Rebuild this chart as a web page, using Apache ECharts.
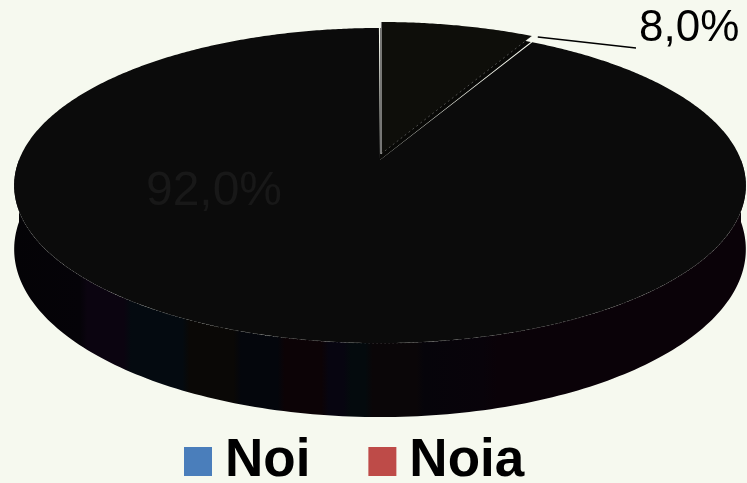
<!DOCTYPE html>
<html>
<head>
<meta charset="utf-8">
<script src="https://cdn.jsdelivr.net/npm/echarts@6/dist/echarts.min.js"></script>
<style>
html,body{margin:0;padding:0;background:#f6f9ef;}
#c{width:747px;height:483px;}
</style>
</head>
<body>
<div id="c"></div>
<script>
// Data
const categories = ['Noi', 'Noia'];
const values = [8.0, 92.0];
const labels = ['8,0%', '92,0%'];
const legendColors = ['#4a7ebb', '#be4b48'];

// 3D pie geometry (perspective projection of a disc)
const CX = 380, CY = 160, A = 361, B = 153.4, P = 0.162, D0 = 62;
const total = values.reduce((s, v) => s + v, 0);

function proj(deg, t) {
  const r = deg * Math.PI / 180;
  const u = t * Math.sin(r), v = -t * Math.cos(r);
  const w = 1 - P * v;
  return [CX + A * u / w, CY + B * v / w, w];
}

const sideGradient = {
  type: 'linear', x: 14, y: 0, x2: 746, y2: 0, global: true,
  colorStops: [
    {offset: 0.00, color: '#040306'}, {offset: 0.09, color: '#050308'},
    {offset: 0.10, color: '#0b0410'}, {offset: 0.15, color: '#0b0410'},
    {offset: 0.16, color: '#040a10'}, {offset: 0.23, color: '#040a10'},
    {offset: 0.24, color: '#0a0806'}, {offset: 0.30, color: '#0a0806'},
    {offset: 0.31, color: '#04060c'}, {offset: 0.36, color: '#04060c'},
    {offset: 0.37, color: '#0c0306'}, {offset: 0.42, color: '#0c0306'},
    {offset: 0.43, color: '#070510'}, {offset: 0.45, color: '#070510'},
    {offset: 0.46, color: '#040a0d'}, {offset: 0.48, color: '#040a0d'},
    {offset: 0.49, color: '#0a0608'}, {offset: 0.55, color: '#0a0608'},
    {offset: 0.56, color: '#06040a'}, {offset: 0.64, color: '#08030a'},
    {offset: 0.66, color: '#0a0208'}, {offset: 1.00, color: '#0a0208'}
  ]
};

function facePoints(a1, a2, off) {
  const c = proj(0, 0);
  const pts = [[c[0] + off[0], c[1] + off[1]]];
  for (let d = a1; d <= a2 + 1e-6; d += 0.5) {
    const p = proj(Math.min(d, a2), 1);
    pts.push([p[0] + off[0], p[1] + off[1]]);
  }
  return pts;
}

function renderSlice(params, api) {
  const i = params.seriesIndex;
  const val = api.value(0);
  let before = 0;
  for (let k = 0; k < i; k++) before += values[k];
  const a1 = before / total * 360;
  const a2 = (before + val) / total * 360;
  const off = i === 0 ? [1, -6] : [0, 0];
  const children = [];

  // side wall (front-facing part only)
  const s1 = Math.max(a1, 90), s2 = Math.min(a2, 270);
  if (s2 > s1) {
    const topPts = [], botPts = [];
    for (let d = s1; d <= s2 + 1e-6; d += 1) {
      const p = proj(Math.min(d, s2), 1);
      topPts.push([p[0] + off[0], p[1] + off[1]]);
      botPts.push([p[0] + off[0], p[1] + off[1] + D0 / p[2]]);
    }
    children.push({
      type: 'polygon',
      shape: {points: topPts.concat(botPts.reverse())},
      style: {fill: sideGradient, stroke: null}
    });
    children.push({
      type: 'polyline',
      shape: {points: topPts},
      style: {stroke: 'rgba(255,255,255,0.35)', lineWidth: 1, lineDash: [1, 3], fill: null}
    });
  }

  if (i === 0) {
    // radial wall under the pulled-out slice
    children.push({
      type: 'polygon',
      shape: {points: facePoints(a1, a2, [0, 0])},
      style: {fill: '#080806', stroke: null}
    });
  }

  // top face
  const face = facePoints(a1, a2, off);
  children.push({
    type: 'polygon',
    shape: {points: face},
    style: {fill: i === 0 ? '#0e0e0a' : '#0b0b0b', stroke: null}
  });

  if (i === 0) {
    // light edges of the pulled-out slice
    const c = face[0], e = face[face.length - 1], s = face[1];
    children.push({
      type: 'polyline',
      shape: {points: [s, c]},
      style: {stroke: 'rgba(225,225,225,0.85)', lineWidth: 1.2, fill: null}
    });
    children.push({
      type: 'polyline',
      shape: {points: [c, e]},
      style: {stroke: 'rgba(200,200,200,0.45)', lineWidth: 0.8, lineDash: [2, 3], fill: null}
    });
    const ex = e[0] + 6, ey = e[1] + 1;
    children.push({
      type: 'polyline',
      shape: {points: [[ex, ey], [636, 48]]},
      style: {stroke: '#000', lineWidth: 1.5, fill: null}
    });
    children.push({
      type: 'text',
      style: {text: labels[i], x: 639, y: 51, fill: '#000', fontSize: 44,
        fontFamily: 'Liberation Sans, Arial, sans-serif', textVerticalAlign: 'bottom', textAlign: 'left'}
    });
  } else {
    children.push({
      type: 'text',
      style: {text: labels[i], x: 214, y: 216, fill: '#181818', fontSize: 48,
        fontFamily: 'Liberation Sans, Arial, sans-serif', textVerticalAlign: 'bottom', textAlign: 'center'}
    });
  }
  return {type: 'group', children: children};
}

const chart = echarts.init(document.getElementById('c'), null, {renderer: 'canvas'});
chart.setOption({
  backgroundColor: '#f6f9ef',
  animation: false,
  legend: {
    data: categories,
    left: 179, top: 430,
    icon: 'rect',
    itemWidth: 28, itemHeight: 29, itemGap: 58,
    textStyle: {fontSize: 53, fontWeight: 'bold', color: '#000',
      fontFamily: 'Liberation Sans, Arial, sans-serif', padding: [0, 0, 0, 8]}
  },
  series: categories.map((name, i) => ({
    type: 'custom',
    name: name,
    coordinateSystem: 'none',
    z: i === 0 ? 3 : 2,
    itemStyle: {color: legendColors[i]},
    renderItem: renderSlice,
    data: [[values[i]]]
  }))
});
</script>
</body>
</html>
